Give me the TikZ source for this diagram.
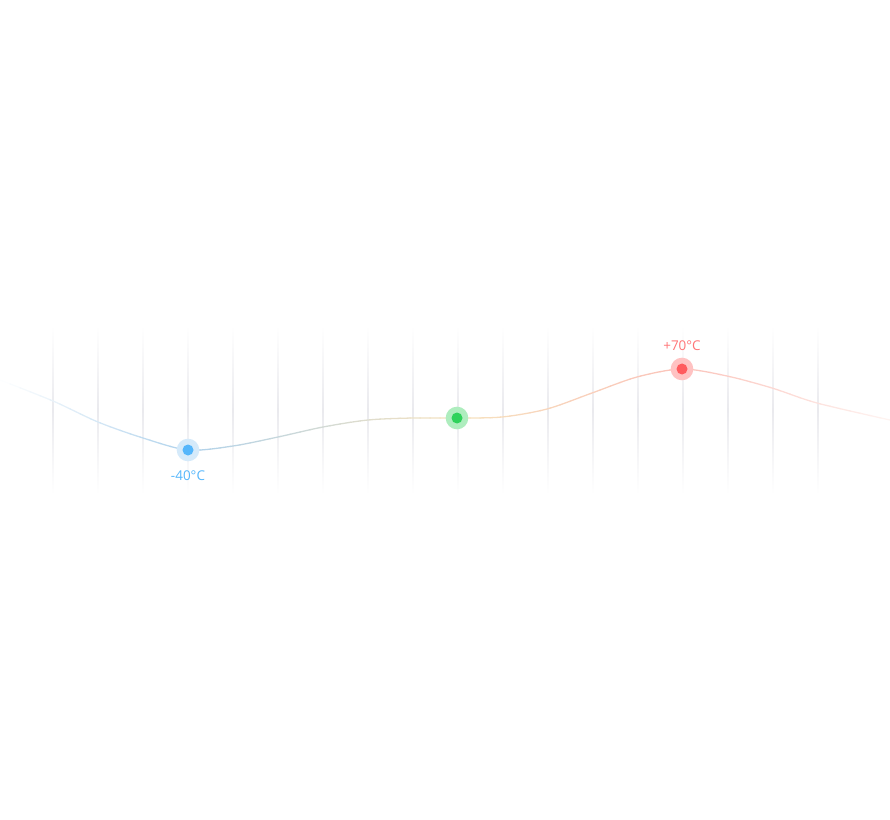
\documentclass[tikz,border=0pt]{standalone}
\usepackage{fontspec}
\setmainfont{Open Sans}
\usetikzlibrary{positioning}
\definecolor{froid}{HTML}{55B6FB}
\definecolor{froidclair}{HTML}{D5EAFA}
\definecolor{tiede}{HTML}{2FD25B}
\definecolor{tiedeclair}{HTML}{AEEDBE}
\definecolor{chaud}{HTML}{FF5B5E}
\definecolor{chaudclair}{HTML}{FFC2C2}
\definecolor{courbefroid}{HTML}{AFD2EC}
\definecolor{courbetiede}{HTML}{F6E2BE}
\definecolor{courbechaud}{HTML}{FBC3BA}
\definecolor{grille}{HTML}{EAEAEE}
\tikzset{
  halo/.style={circle,inner sep=0pt,minimum size=0.68cm},
  point/.style={circle,inner sep=0pt,minimum size=0.33cm},
  etiquette/.style={inner sep=0pt,font=\fontsize{11.5}{13}\selectfont},
}

\begin{document}
\begin{tikzpicture}[x=0.03cm,y=-0.03cm]
  \useasboundingbox (0,0) rectangle (890,820);
  % grille verticale
  \foreach \x in {53,98,...,818}
    \shade[top color=white,bottom color=white,middle color=grille] (\x-0.8,325) rectangle (\x+0.8,495);
  % courbe en bandes, du froid au chaud
  \foreach \i in {0,...,88} {
    \pgfmathsetmacro\xa{10*\i}
    \pgfmathsetmacro\xc{10*\i+5}
    \ifdim\xc pt<457pt
      \pgfmathtruncatemacro\p{min(100,max(0,(457-\xc)/2.69))}
      \colorlet{seg}{courbefroid!\p!courbetiede}
    \else
      \pgfmathtruncatemacro\p{min(100,max(0,(\xc-457)/2.25))}
      \colorlet{seg}{courbechaud!\p!courbetiede}
    \fi
    \pgfmathtruncatemacro\f{\xc<188 ? \xc/1.88 : (\xc>682 ? 100-(\xc-682)/2.6 : 100)}
    \begin{scope}
      \clip (\xa-0.5,300) rectangle (\xa+10.5,520);
      \draw[seg!\f!white,line width=1.1pt] plot[smooth] coordinates {(0,380) (53,401) (98,422) (143,438) (188,450) (233,446) (278,437) (323,427) (368,420) (413,418) (457,418) (502,417) (547,409) (592,393) (637,377) (682,369) (727,376) (772,388) (817,403) (890,420)};
    \end{scope}
  }
  % points
  \node[halo,fill=froidclair] (hfroid) at (188,450) {};
  \node[point,fill=froid] (pfroid) at (hfroid) {};
  \node[halo,fill=tiedeclair] (htiede) at (457,418) {};
  \node[point,fill=tiede] (ptiede) at (htiede) {};
  \node[halo,fill=chaudclair] (hchaud) at (682,369) {};
  \node[point,fill=chaud] (pchaud) at (hchaud) {};
  \node[etiquette,text=froid,below=0.28cm of hfroid] (tfroid) {-40°C};
  \node[etiquette,text=chaud!85!white,above=0.2cm of hchaud] (tchaud) {+70°C};
\end{tikzpicture}
\end{document}
